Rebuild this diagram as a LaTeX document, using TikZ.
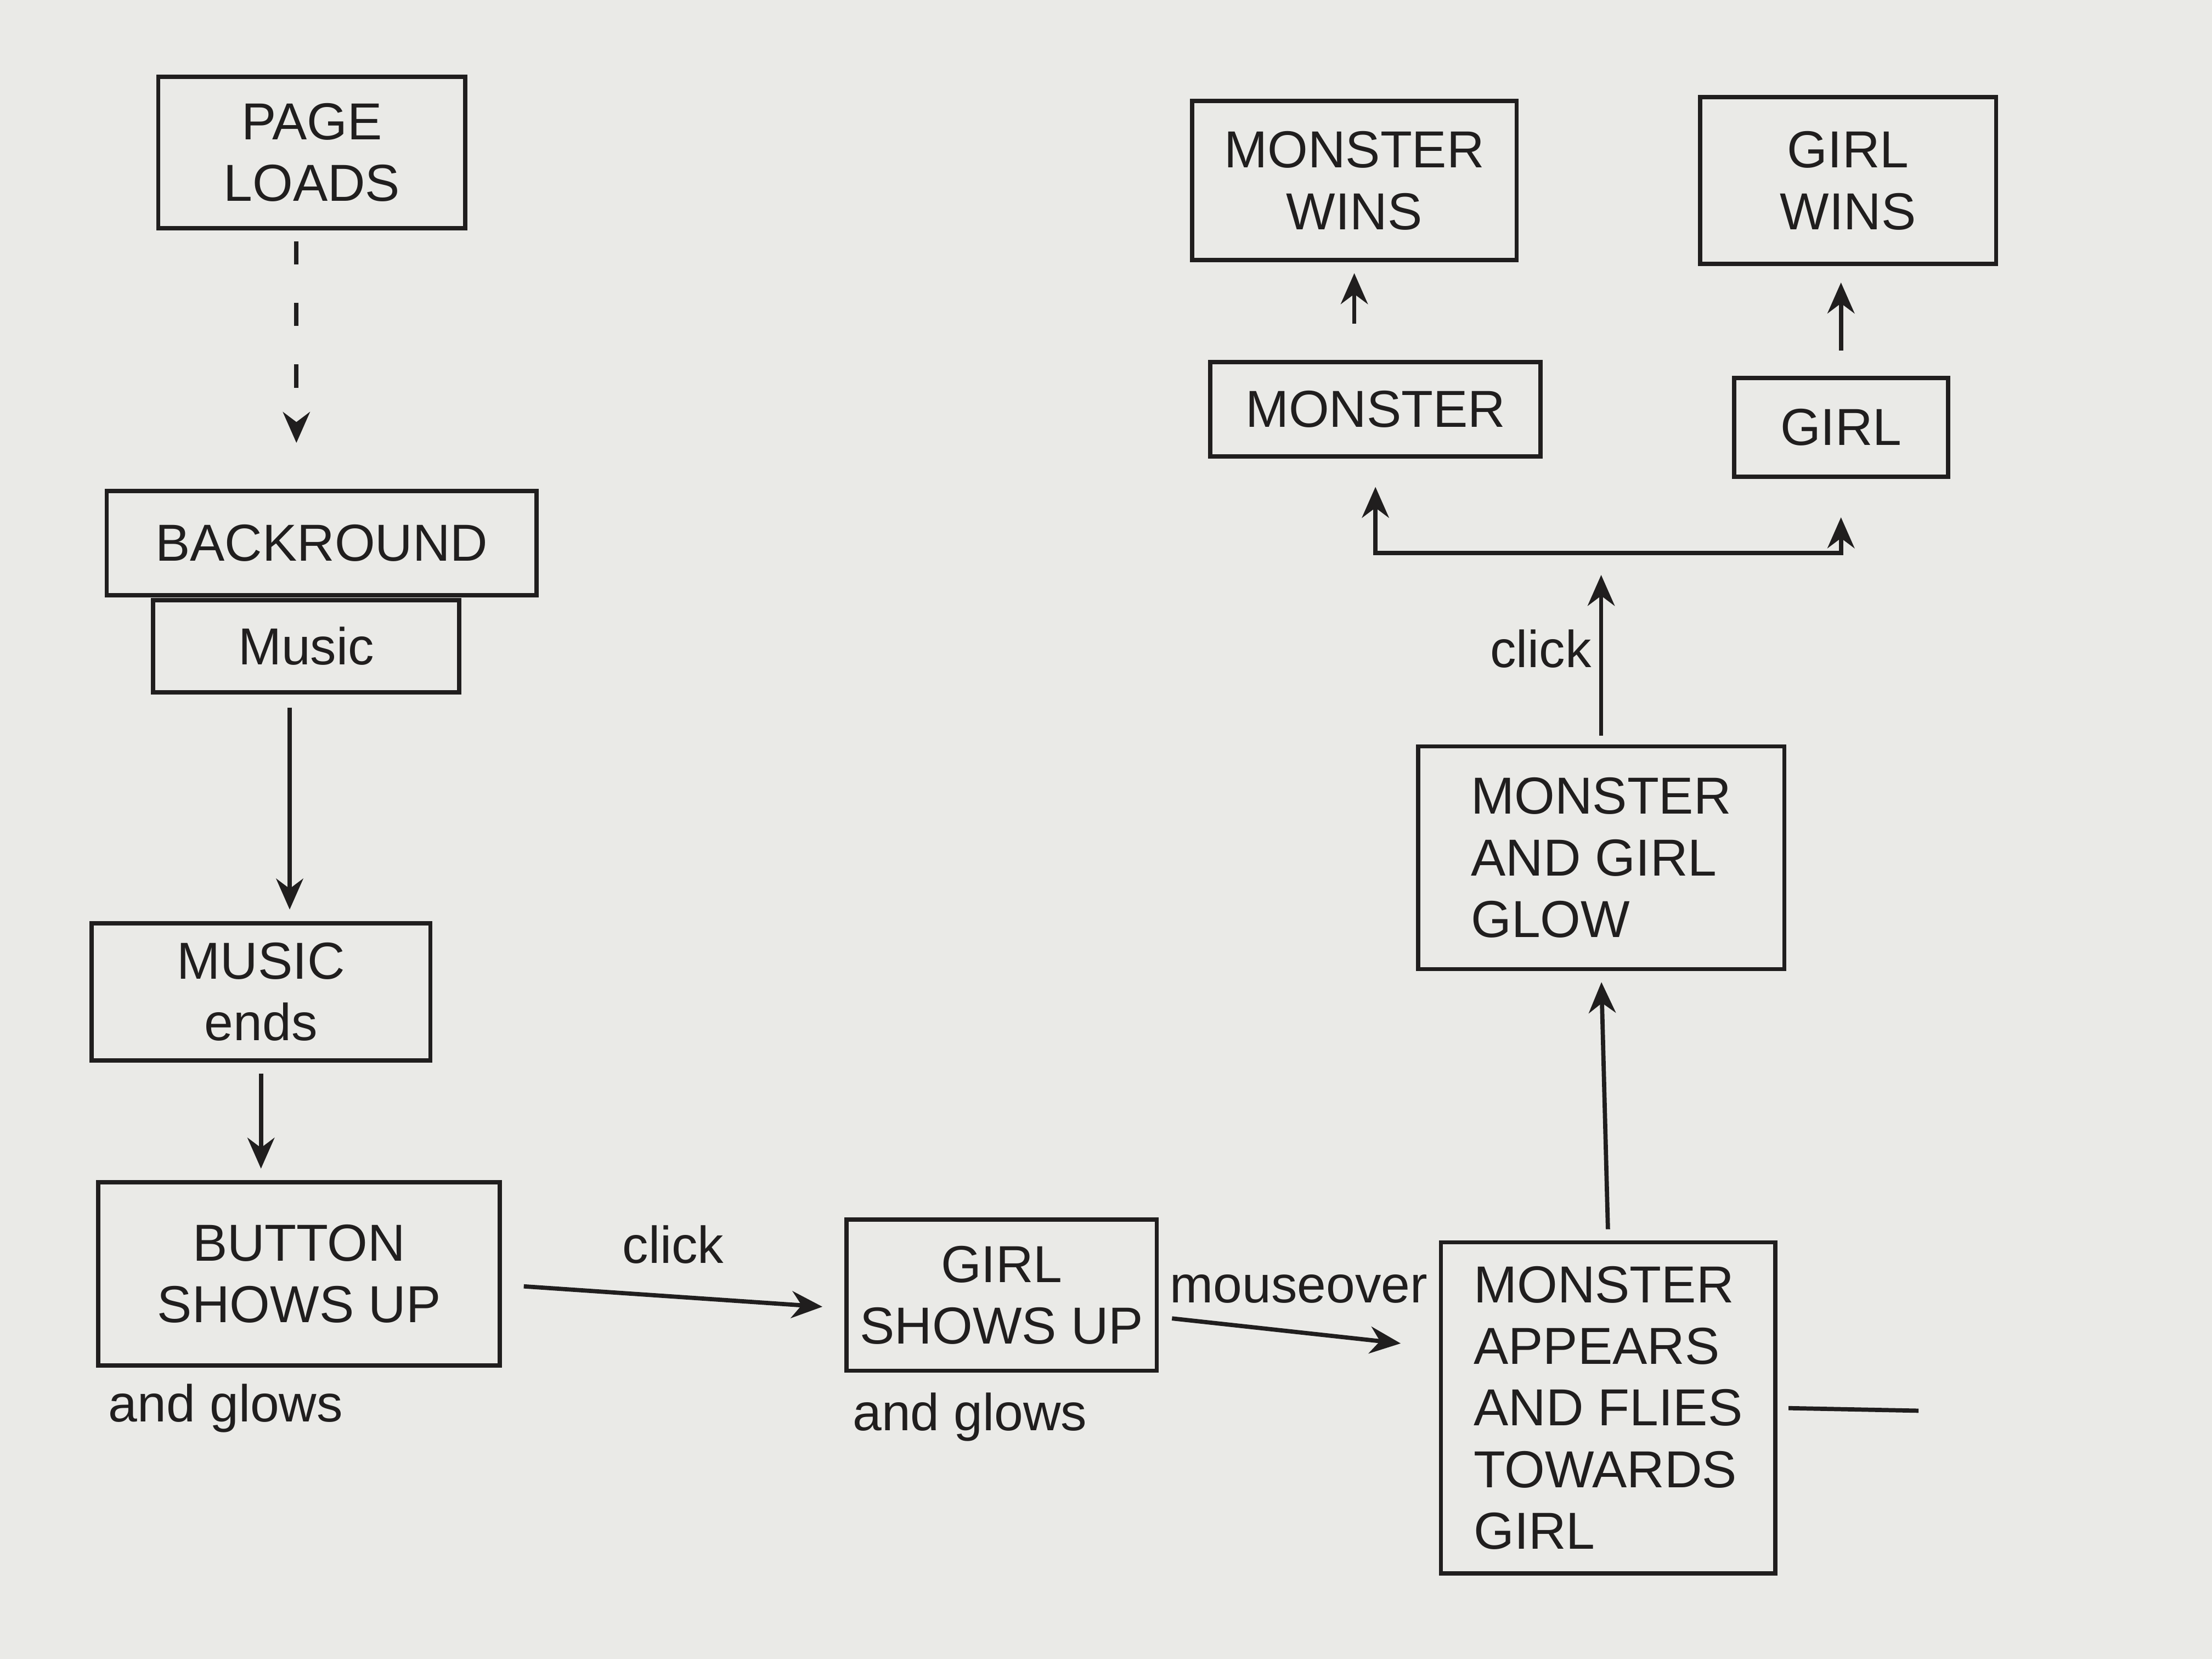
\documentclass[tikz,border=0pt]{standalone}
\usepackage{fontspec}
\setmainfont{Liberation Sans}
\usetikzlibrary{positioning,arrows.meta}
\definecolor{paper}{RGB}{234,234,231}
\definecolor{ink}{RGB}{32,30,30}
\tikzset{
  stepbox/.style={draw=ink, line width=1.1pt, align=center, inner sep=2pt, text=ink, font=\fontsize{13.5}{16}\selectfont},
  note/.style={text=ink, inner sep=1pt, font=\fontsize{13.5}{16}\selectfont},
  link/.style={->, draw=ink, line width=1.1pt, shorten >=3pt, shorten <=3pt},
}
\begin{document}
\begin{tikzpicture}[>={Stealth[length=8pt,width=7pt]}, x=0.012857cm, y=-0.012857cm]
  \fill[paper] (0,0) rectangle (1568,1176);
  %--- left column
  \node[stepbox, minimum width=2.80cm, minimum height=1.38cm] (pageloads) at (221,108) {PAGE\\LOADS};
  \node[stepbox, minimum width=3.92cm, minimum height=0.95cm] (bground) at (228,385) {BACKROUND};
  \node[stepbox, minimum width=2.79cm, minimum height=0.84cm] (music) at (217,458) {Music};
  \node[stepbox, minimum width=3.09cm, minimum height=1.25cm] (musicends) at (185,703) {MUSIC\\ends};
  \node[stepbox, minimum width=3.66cm, minimum height=1.67cm] (button) at (212,903) {BUTTON\\SHOWS UP};
  \node[note, below right=3pt and 2pt of button.south west] (buttonnote) {and glows};
  %--- bottom row
  \node[stepbox, minimum width=2.83cm, minimum height=1.38cm] (girlshows) at (710,918) {GIRL\\SHOWS UP};
  \node[note, below right=4pt and 1pt of girlshows.south west] (girlnote) {and glows};
  \node[stepbox, minimum width=3.05cm, minimum height=3.02cm, align=left] (flies) at (1140,998) {MONSTER\\APPEARS\\AND FLIES\\TOWARDS\\GIRL};
  \coordinate (tail) at (1360,1000);
  %--- right column
  \node[stepbox, minimum width=3.34cm, minimum height=2.03cm, align=left] (glow) at (1135,608) {MONSTER\\AND GIRL\\GLOW};
  \coordinate (split) at (1135,392);
  \node[stepbox, minimum width=3.01cm, minimum height=0.86cm] (monster) at (975,290) {MONSTER};
  \node[stepbox, minimum width=1.95cm, minimum height=0.90cm] (girl) at (1305,303) {GIRL};
  \node[stepbox, minimum width=2.96cm, minimum height=1.45cm] (monsterwins) at (960,128) {MONSTER\\WINS};
  \node[stepbox, minimum width=2.70cm, minimum height=1.52cm] (girlwins) at (1310,128) {GIRL\\WINS};
  %--- connectors
  \draw[link, dash pattern=on 6pt off 10pt, shorten >=0.42cm, shorten <=0.1cm] ([xshift=-0.14cm]pageloads.south) -- ([xshift=-0.14cm]pageloads.south |- bground.north);
  \draw[link, shorten <=0.12cm] ([xshift=-0.15cm]music.south) -- ([xshift=-0.15cm]music.south |- musicends.north);
  \draw[link, shorten <=0.1cm] (musicends.south) -- (musicends.south |- button.north);
  \draw[link, shorten <=0.2cm, shorten >=0.2cm] ([yshift=-0.1cm]button.east) -- node[note, above=7pt] {click} ([yshift=-0.12cm]girlshows.west);
  \draw[link, shorten <=0.12cm, shorten >=0.35cm] ([yshift=-0.2cm]girlshows.east) -- node[note, above=6pt] {mouseover} ([yshift=0.55cm]flies.west);
  \draw[ink, line width=1.1pt, shorten <=0.1cm] (flies.east) -- (tail);
  \draw[link, shorten <=0.1cm, shorten >=0.1cm] (flies.north) -- (glow.south);
  \draw[link, shorten <=0.08cm, shorten >=0.2cm] (glow.north) -- node[note, left=1pt] {click} (split);
  \draw[link, shorten <=0pt, shorten >=0.26cm] (split) -| (monster.south);
  \draw[link, shorten <=0pt, shorten >=0.35cm] (split) -| (girl.south);
  \draw[link, shorten <=0.33cm, shorten >=0.1cm] (monsterwins.south |- monster.north) -- (monsterwins.south);
  \draw[link, shorten <=0.23cm, shorten >=0.15cm] (girl.north) -- (girl.north |- girlwins.south);
\end{tikzpicture}
\end{document}
